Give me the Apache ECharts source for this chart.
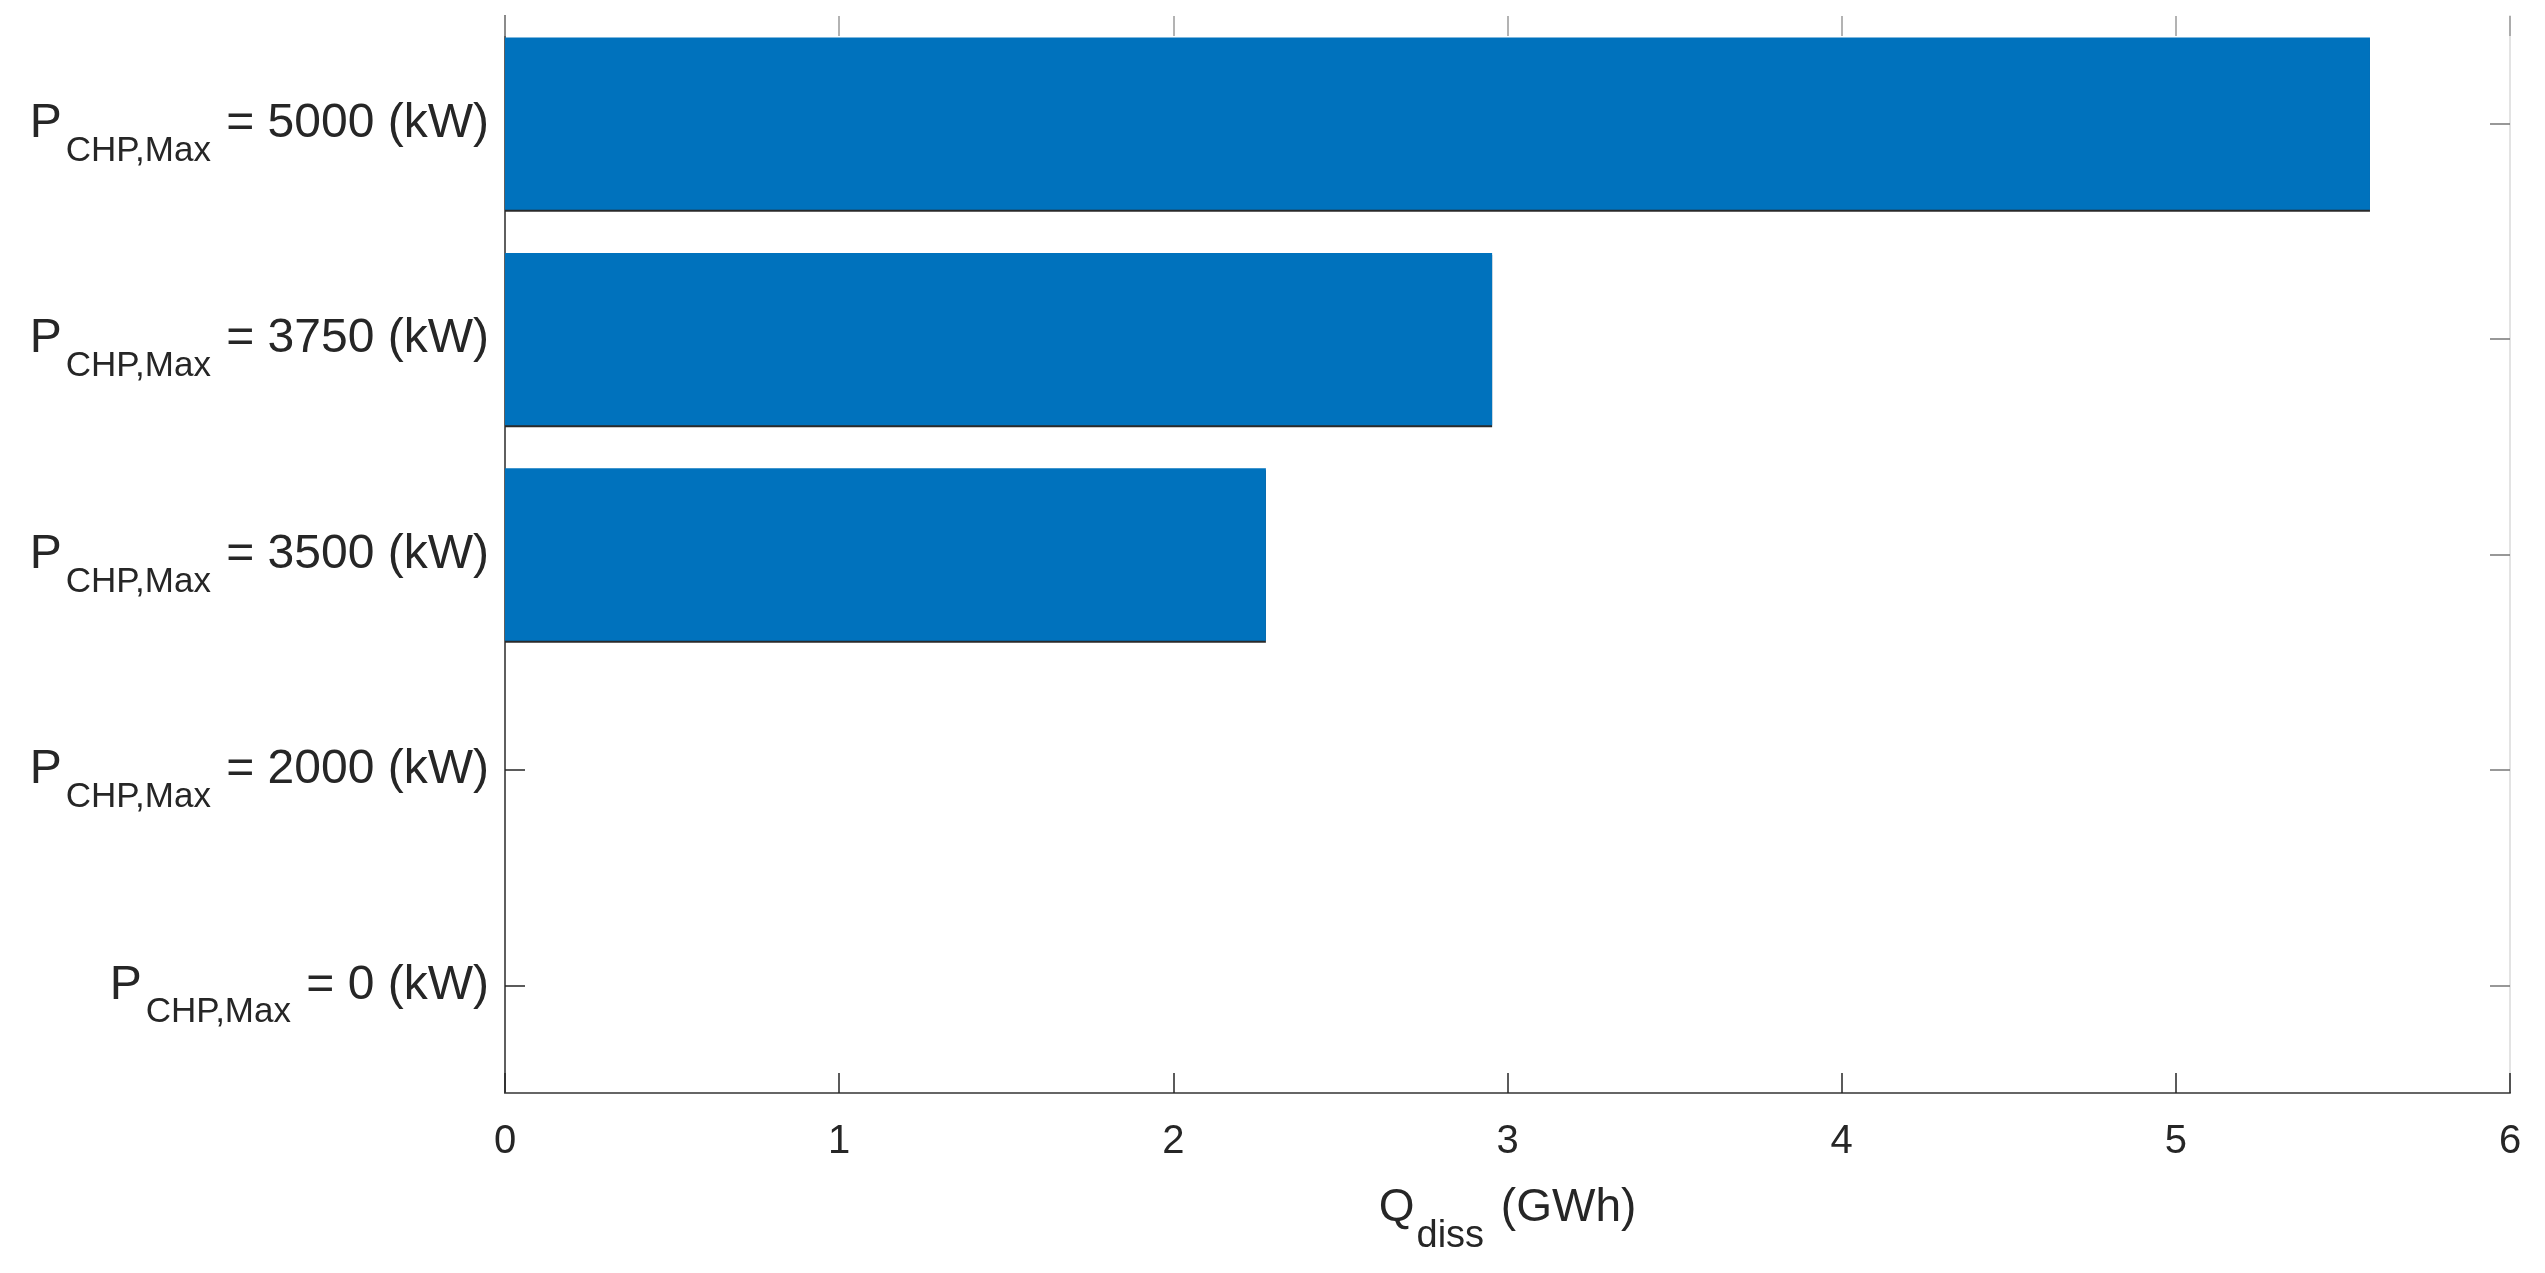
<!DOCTYPE html>
<html>
<head>
<meta charset="utf-8">
<script src="https://cdn.jsdelivr.net/npm/echarts@6/dist/echarts.min.js"></script>
<style>
  html, body { margin: 0; padding: 0; background: #ffffff; }
  #chart { width: 2545px; height: 1273px; }
</style>
</head>
<body>
<div id="chart"></div>
<script>
// Categories (bottom to top), P_CHP,Max in kW
const pChpMax = ['0', '2000', '3500', '3750', '5000'];
// Dissipated heat Q_diss (GWh)
const qDiss = [0, 0, 2.277, 2.954, 5.581];
// X axis ticks
const xMin = 0, xMax = 6, xInterval = 1;

const FONT = "'Liberation Sans', Arial, Helvetica, sans-serif";
const TXT = '#262626';

const chart = echarts.init(document.getElementById('chart'), null, { renderer: 'canvas' });

const yLabelRich = {
  p: { fontSize: 48, fontFamily: FONT, color: TXT },
  s: { fontSize: 35, fontFamily: FONT, color: TXT, padding: [55, 2, 0, 4] },
  n: { fontSize: 48, fontFamily: FONT, color: TXT }
};

chart.setOption({
  backgroundColor: '#ffffff',
  animation: false,
  grid: {
    left: 505, right: 35, top: 16, bottom: 180,
    containLabel: false,
    outerBoundsMode: 'none'
  },
  xAxis: [
    {
      type: 'value',
      position: 'bottom',
      min: xMin, max: xMax, interval: xInterval,
      axisLine: { show: true, onZero: false, lineStyle: { color: '#666666', width: 2 } },
      axisTick: { show: true, inside: true, length: 20, lineStyle: { color: '#262626', width: 1.5 } },
      splitLine: { show: false },
      axisLabel: { fontSize: 40, fontFamily: FONT, color: TXT, margin: 29 },
      name: '{q|Q}{s|diss}{n| (GWh)}',
      nameLocation: 'middle',
      nameGap: 68,
      nameTextStyle: {
        color: TXT,
        rich: {
          q: { fontSize: 46, fontFamily: FONT, color: TXT },
          s: { fontSize: 38, fontFamily: FONT, color: TXT, padding: [57, 4, 0, 2] },
          n: { fontSize: 46, fontFamily: FONT, color: TXT }
        }
      }
    },
    {
      type: 'value',
      position: 'top',
      min: xMin, max: xMax, interval: xInterval,
      axisLine: { show: false, onZero: false },
      axisTick: { show: true, inside: true, length: 20, lineStyle: { color: '#9a9a9a', width: 1.5 } },
      splitLine: { show: false },
      axisLabel: { show: false }
    }
  ],
  yAxis: [
    {
      type: 'category',
      position: 'left',
      data: pChpMax,
      axisLine: { show: true, onZero: false, lineStyle: { color: '#5f5f5f', width: 2 } },
      axisTick: { show: true, inside: true, alignWithLabel: true, length: 20, lineStyle: { color: '#262626', width: 1.5 } },
      splitLine: { show: false },
      axisLabel: {
        margin: 16,
        formatter: function (v) { return '{p|P}{s|CHP,Max}{n| = ' + v + ' (kW)}'; },
        rich: yLabelRich
      }
    },
    {
      type: 'category',
      position: 'right',
      data: pChpMax,
      axisLine: { show: true, onZero: false, lineStyle: { color: '#e3e3e3', width: 2 } },
      axisTick: { show: true, inside: true, alignWithLabel: true, length: 20, lineStyle: { color: '#777777', width: 1.5 } },
      splitLine: { show: false },
      axisLabel: { show: false }
    }
  ],
  series: [
    {
      type: 'bar',
      xAxisIndex: 0,
      yAxisIndex: 0,
      data: qDiss,
      barWidth: '80%',
      itemStyle: {
        color: '#0072BD',
        shadowColor: '#2a2a2a',
        shadowBlur: 0,
        shadowOffsetX: 0,
        shadowOffsetY: 2
      },
      emphasis: { disabled: true }
    }
  ]
});
</script>
</body>
</html>
